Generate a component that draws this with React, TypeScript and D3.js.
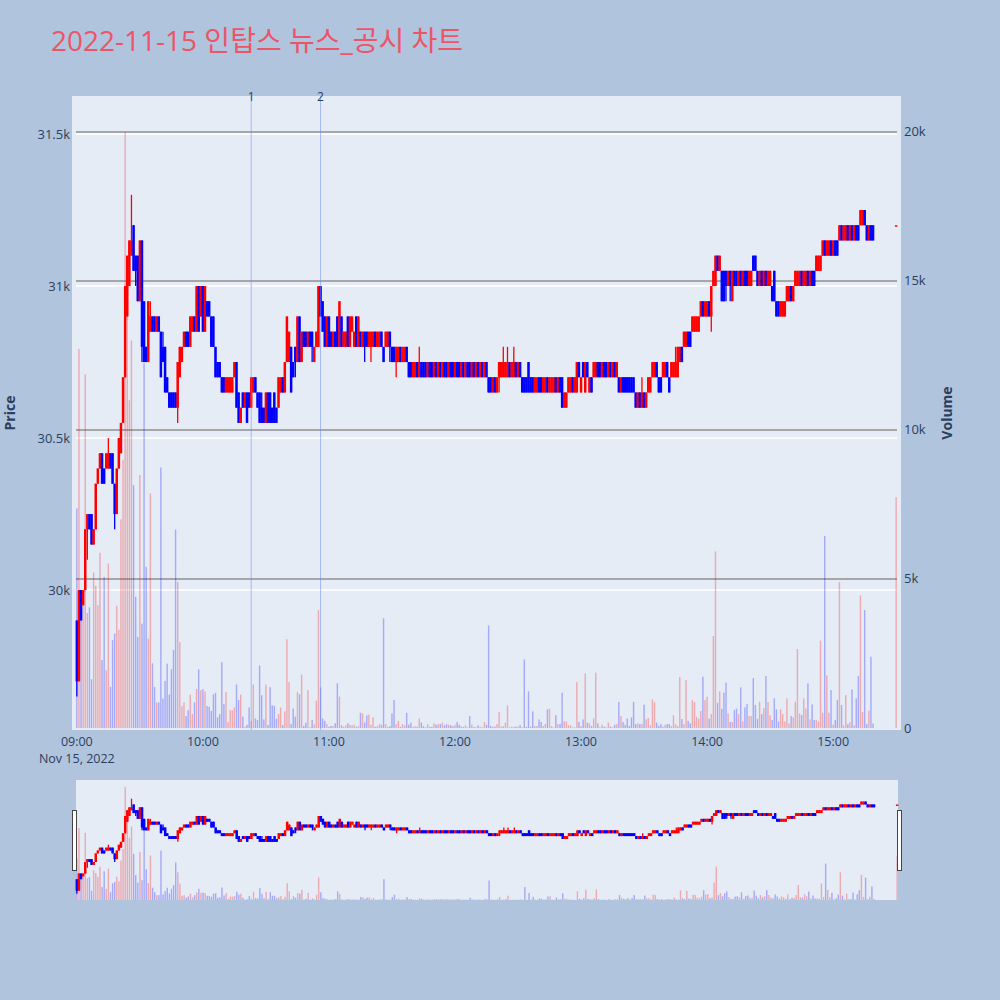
import * as d3 from "d3";

const TITLE = "2022-11-15 인탑스 뉴스_공시 차트";
const SESSION_OPEN = "09:00";
const CLOSE_AUCTION = "15:30";
const DATE_LABEL = "Nov 15, 2022";

const eventLabels = ["1", "2"];
const eventTimes = ["10:23", "10:56"];

const priceTicks = [30000, 30500, 31000, 31500];
const priceTickLabels = ["30k", "30.5k", "31k", "31.5k"];
const volumeTicks = [0, 5000, 10000, 15000, 20000];
const volumeTickLabels = ["0", "5k", "10k", "15k", "20k"];

// 1-minute candles 09:00 .. 15:19, last entry is the 15:30 closing auction
const opens = [
  29900, 29700, 30000, 29950, 30000, 30200, 30250, 30250, 30150, 30200,
  30350, 30400, 30450, 30400, 30400, 30400, 30450, 30450, 30350, 30250,
  30400, 30450, 30550, 30700, 30900, 31000, 31100, 31200, 31100, 31100,
  30950, 31150, 30950, 30800, 30750, 30850, 30900, 30900, 30850, 30900,
  30850, 30800, 30800, 30700, 30650, 30650, 30650, 30650, 30600, 30700,
  30750, 30800, 30850, 30850, 30800, 30850, 30900, 30850, 31000, 30900,
  31000, 30850, 30950, 30950, 30900, 30900, 30800, 30750, 30750, 30700,
  30700, 30650, 30650, 30650, 30650, 30700, 30750, 30650, 30550, 30650,
  30600, 30650, 30650, 30600, 30650, 30700, 30650, 30650, 30600, 30600,
  30550, 30650, 30650, 30600, 30650, 30600, 30600, 30650, 30700, 30650,
  30750, 30750, 30800, 30750, 30800, 30750, 30900, 30750, 30850, 30850,
  30800, 30850, 30850, 30750, 30800, 30800, 31000, 30950, 30900, 30800,
  30900, 30850, 30800, 30850, 30900, 30800, 30900, 30800, 30800, 30900,
  30800, 30850, 30800, 30900, 30800, 30850, 30800, 30850, 30850, 30800,
  30800, 30800, 30850, 30800, 30800, 30850, 30800, 30800, 30800, 30850,
  30800, 30800, 30750, 30750, 30800, 30750, 30750, 30800, 30750, 30750,
  30700, 30700, 30750, 30700, 30750, 30750, 30750, 30700, 30750, 30750,
  30700, 30750, 30700, 30750, 30700, 30750, 30750, 30700, 30750, 30750,
  30700, 30750, 30750, 30700, 30750, 30700, 30750, 30750, 30700, 30750,
  30700, 30750, 30700, 30750, 30700, 30750, 30700, 30700, 30650, 30700,
  30650, 30700, 30700, 30700, 30700, 30700, 30750, 30700, 30700, 30750,
  30700, 30750, 30700, 30700, 30700, 30750, 30700, 30700, 30650, 30650,
  30700, 30700, 30650, 30650, 30700, 30650, 30650, 30650, 30700, 30650,
  30700, 30700, 30600, 30600, 30650, 30650, 30700, 30650, 30650, 30750,
  30650, 30750, 30650, 30750, 30650, 30700, 30700, 30700, 30750, 30750,
  30700, 30750, 30750, 30700, 30750, 30700, 30750, 30700, 30700, 30650,
  30700, 30700, 30700, 30700, 30700, 30700, 30650, 30600, 30650, 30600,
  30650, 30600, 30650, 30650, 30700, 30700, 30750, 30700, 30700, 30700,
  30700, 30750, 30700, 30700, 30700, 30700, 30700, 30750, 30800, 30800,
  30800, 30850, 30850, 30850, 30850, 30850, 30850, 30900, 30950, 30900,
  30900, 30950, 30900, 31000, 31000, 31100, 31050, 31050, 31050, 31050,
  31000, 31050, 30950, 31050, 31050, 31000, 31050, 31000, 31050, 31050,
  31000, 31000, 31100, 31100, 31050, 31000, 31050, 31000, 31050, 31000,
  31000, 31000, 31050, 30950, 30950, 30900, 30900, 30900, 30950, 30950,
  31000, 30950, 31000, 31000, 31000, 31050, 31000, 31000, 31050, 31000,
  31050, 31050, 31050, 31050, 31050, 31100, 31150, 31100, 31100, 31150,
  31100, 31150, 31150, 31150, 31200, 31150, 31150, 31200, 31150, 31200,
  31150, 31200, 31200, 31200, 31200, 31250, 31200, 31150, 31200, 31200,
  31200,
];

const highs = [
  29900, 30000, 30000, 30000, 30200, 30250, 30250, 30250, 30200, 30350,
  30400, 30450, 30450, 30400, 30450, 30500, 30450, 30450, 30350, 30400,
  30500, 30550, 30700, 31000, 31100, 31150, 31300, 31200, 31100, 31100,
  31150, 31150, 30950, 30800, 30950, 30950, 30900, 30900, 30900, 30900,
  30850, 30850, 30800, 30700, 30650, 30650, 30650, 30650, 30750, 30800,
  30800, 30850, 30850, 30850, 30900, 30900, 30900, 31000, 31000, 31000,
  31000, 31000, 30950, 30950, 30900, 30900, 30800, 30750, 30750, 30700,
  30700, 30700, 30700, 30700, 30700, 30750, 30750, 30650, 30600, 30650,
  30650, 30650, 30650, 30700, 30700, 30700, 30650, 30650, 30650, 30600,
  30650, 30650, 30650, 30600, 30650, 30600, 30700, 30700, 30700, 30750,
  30900, 30850, 30800, 30750, 30800, 30900, 30900, 30850, 30850, 30850,
  30850, 30850, 30850, 30800, 30850, 31000, 31000, 30950, 30900, 30900,
  30900, 30850, 30850, 30850, 30900, 30950, 30900, 30850, 30850, 30900,
  30900, 30900, 30850, 30900, 30900, 30850, 30850, 30850, 30850, 30850,
  30850, 30850, 30850, 30850, 30850, 30850, 30800, 30850, 30850, 30850,
  30800, 30800, 30800, 30800, 30800, 30800, 30800, 30800, 30750, 30750,
  30750, 30750, 30750, 30800, 30750, 30750, 30750, 30750, 30750, 30750,
  30750, 30750, 30750, 30750, 30750, 30750, 30750, 30750, 30750, 30750,
  30750, 30750, 30750, 30750, 30750, 30750, 30750, 30750, 30750, 30750,
  30750, 30750, 30750, 30750, 30750, 30750, 30700, 30700, 30700, 30700,
  30700, 30750, 30750, 30800, 30750, 30800, 30750, 30750, 30800, 30750,
  30750, 30750, 30700, 30700, 30700, 30750, 30700, 30700, 30700, 30700,
  30700, 30700, 30700, 30700, 30700, 30700, 30700, 30700, 30700, 30700,
  30700, 30700, 30650, 30650, 30700, 30700, 30700, 30700, 30750, 30750,
  30700, 30750, 30750, 30750, 30700, 30700, 30750, 30750, 30750, 30750,
  30750, 30750, 30750, 30750, 30750, 30750, 30750, 30750, 30700, 30700,
  30700, 30700, 30700, 30700, 30700, 30700, 30650, 30650, 30650, 30700,
  30650, 30650, 30700, 30700, 30750, 30750, 30750, 30700, 30700, 30750,
  30750, 30750, 30700, 30750, 30750, 30800, 30800, 30800, 30800, 30850,
  30850, 30850, 30850, 30900, 30900, 30900, 30900, 30950, 30950, 30950,
  30950, 30950, 31000, 31050, 31100, 31100, 31100, 31050, 31050, 31050,
  31050, 31050, 31050, 31050, 31050, 31050, 31050, 31050, 31050, 31050,
  31050, 31050, 31100, 31100, 31050, 31050, 31050, 31050, 31050, 31050,
  31050, 31000, 31050, 30950, 30950, 30950, 30950, 30950, 31000, 31000,
  31000, 31000, 31050, 31050, 31050, 31050, 31050, 31050, 31050, 31050,
  31050, 31050, 31100, 31100, 31100, 31150, 31150, 31150, 31150, 31150,
  31150, 31150, 31150, 31200, 31200, 31200, 31200, 31200, 31200, 31200,
  31200, 31200, 31200, 31250, 31250, 31250, 31200, 31200, 31200, 31200,
  31200,
];

const lows = [
  29650, 29700, 29900, 29950, 30000, 30100, 30200, 30150, 30150, 30200,
  30350, 30400, 30350, 30350, 30400, 30400, 30400, 30350, 30200, 30250,
  30400, 30450, 30550, 30700, 30900, 31000, 31100, 31050, 31000, 30950,
  30950, 30750, 30750, 30750, 30750, 30850, 30850, 30850, 30850, 30850,
  30700, 30750, 30650, 30650, 30600, 30600, 30600, 30600, 30550, 30700,
  30750, 30800, 30800, 30800, 30800, 30850, 30850, 30850, 30850, 30900,
  30850, 30850, 30900, 30900, 30800, 30800, 30700, 30700, 30700, 30650,
  30650, 30650, 30650, 30650, 30650, 30700, 30600, 30550, 30550, 30600,
  30600, 30550, 30600, 30600, 30650, 30650, 30600, 30550, 30550, 30550,
  30550, 30550, 30550, 30550, 30550, 30550, 30600, 30650, 30650, 30650,
  30750, 30750, 30650, 30700, 30700, 30750, 30750, 30750, 30800, 30800,
  30800, 30800, 30750, 30750, 30800, 30800, 30900, 30850, 30800, 30800,
  30800, 30800, 30800, 30800, 30800, 30800, 30800, 30800, 30800, 30800,
  30800, 30850, 30800, 30800, 30800, 30800, 30800, 30750, 30800, 30800,
  30750, 30800, 30800, 30800, 30800, 30800, 30750, 30800, 30800, 30750,
  30750, 30750, 30700, 30750, 30750, 30750, 30750, 30750, 30700, 30700,
  30700, 30700, 30700, 30700, 30700, 30700, 30700, 30700, 30700, 30700,
  30700, 30700, 30700, 30700, 30700, 30700, 30700, 30700, 30700, 30700,
  30700, 30700, 30700, 30700, 30700, 30700, 30700, 30700, 30700, 30700,
  30700, 30700, 30700, 30700, 30700, 30700, 30650, 30650, 30650, 30650,
  30650, 30650, 30700, 30700, 30700, 30700, 30700, 30700, 30700, 30700,
  30700, 30700, 30650, 30650, 30650, 30650, 30650, 30650, 30650, 30650,
  30650, 30650, 30650, 30650, 30650, 30650, 30650, 30650, 30650, 30650,
  30650, 30600, 30600, 30600, 30650, 30650, 30650, 30650, 30650, 30700,
  30650, 30700, 30650, 30700, 30650, 30650, 30700, 30700, 30700, 30700,
  30700, 30700, 30700, 30700, 30700, 30700, 30700, 30700, 30650, 30650,
  30650, 30650, 30650, 30650, 30650, 30650, 30600, 30600, 30600, 30600,
  30600, 30600, 30650, 30650, 30700, 30700, 30700, 30650, 30650, 30700,
  30700, 30700, 30650, 30700, 30700, 30700, 30700, 30750, 30750, 30800,
  30800, 30800, 30800, 30850, 30850, 30850, 30850, 30900, 30900, 30900,
  30900, 30900, 30850, 31000, 31000, 31050, 31050, 30950, 30950, 30950,
  31000, 30950, 30950, 31000, 31000, 31000, 31000, 31000, 31000, 31000,
  31000, 31000, 31050, 31050, 31000, 31000, 31000, 31000, 31000, 31000,
  31000, 30950, 30950, 30900, 30900, 30900, 30900, 30900, 30950, 30950,
  30950, 30950, 31000, 31000, 31000, 31000, 31000, 31000, 31000, 31000,
  31000, 31000, 31050, 31050, 31050, 31100, 31100, 31100, 31100, 31100,
  31100, 31100, 31100, 31150, 31150, 31150, 31150, 31150, 31150, 31150,
  31150, 31150, 31150, 31200, 31200, 31200, 31150, 31150, 31150, 31150,
  31200,
];

const closes = [
  29700, 30000, 29900, 30000, 30200, 30250, 30200, 30150, 30200, 30350,
  30400, 30450, 30350, 30350, 30450, 30450, 30400, 30350, 30250, 30400,
  30500, 30550, 30700, 31000, 31100, 31150, 31150, 31050, 31050, 30950,
  31150, 30800, 30750, 30750, 30950, 30900, 30850, 30850, 30900, 30850,
  30700, 30750, 30650, 30650, 30600, 30600, 30600, 30600, 30750, 30800,
  30800, 30850, 30800, 30800, 30900, 30900, 30850, 31000, 30850, 31000,
  30850, 31000, 30900, 30900, 30800, 30800, 30700, 30700, 30700, 30650,
  30650, 30700, 30700, 30700, 30700, 30750, 30600, 30550, 30600, 30600,
  30650, 30550, 30600, 30700, 30700, 30650, 30600, 30550, 30550, 30550,
  30650, 30550, 30550, 30550, 30550, 30550, 30700, 30700, 30650, 30750,
  30900, 30850, 30650, 30700, 30750, 30900, 30750, 30850, 30800, 30800,
  30850, 30800, 30800, 30800, 30850, 31000, 30900, 30850, 30800, 30900,
  30800, 30800, 30850, 30800, 30800, 30950, 30800, 30850, 30850, 30800,
  30900, 30900, 30850, 30800, 30900, 30800, 30850, 30800, 30800, 30850,
  30850, 30850, 30800, 30850, 30850, 30800, 30750, 30850, 30850, 30800,
  30750, 30750, 30800, 30800, 30750, 30800, 30800, 30750, 30700, 30700,
  30750, 30750, 30700, 30750, 30700, 30700, 30700, 30750, 30700, 30700,
  30750, 30700, 30750, 30700, 30750, 30700, 30700, 30750, 30700, 30700,
  30750, 30700, 30700, 30750, 30700, 30750, 30700, 30700, 30750, 30700,
  30750, 30700, 30750, 30700, 30750, 30700, 30650, 30650, 30700, 30650,
  30700, 30750, 30750, 30750, 30750, 30750, 30700, 30750, 30750, 30700,
  30750, 30700, 30650, 30650, 30650, 30650, 30650, 30650, 30700, 30700,
  30650, 30650, 30700, 30700, 30650, 30700, 30700, 30700, 30650, 30700,
  30650, 30600, 30650, 30650, 30700, 30700, 30650, 30700, 30750, 30700,
  30700, 30700, 30750, 30700, 30700, 30650, 30750, 30750, 30700, 30700,
  30750, 30700, 30700, 30750, 30700, 30750, 30700, 30750, 30650, 30700,
  30650, 30650, 30650, 30650, 30650, 30650, 30600, 30650, 30600, 30650,
  30600, 30650, 30700, 30700, 30750, 30750, 30700, 30650, 30650, 30750,
  30750, 30700, 30650, 30750, 30750, 30750, 30800, 30800, 30750, 30850,
  30850, 30800, 30800, 30900, 30900, 30900, 30900, 30950, 30900, 30950,
  30950, 30900, 31000, 31050, 31100, 31050, 31100, 30950, 30950, 31000,
  31050, 31000, 31050, 31000, 31000, 31050, 31000, 31050, 31000, 31000,
  31050, 31050, 31050, 31050, 31000, 31050, 31000, 31050, 31000, 31050,
  31050, 30950, 30950, 30900, 30900, 30950, 30950, 30950, 31000, 31000,
  30950, 31000, 31050, 31050, 31050, 31000, 31050, 31050, 31000, 31050,
  31000, 31000, 31100, 31100, 31100, 31150, 31100, 31150, 31150, 31100,
  31150, 31100, 31100, 31200, 31150, 31200, 31200, 31150, 31200, 31150,
  31200, 31150, 31150, 31250, 31250, 31200, 31150, 31200, 31150, 31150,
  31200,
];

const volumes = [
  7370, 12720, 3590, 4120, 11870, 3860, 4050, 1640, 5220, 4770,
  4120, 5880, 2280, 5070, 1940, 5520, 1380, 2950, 3170, 4100,
  3300, 7000, 9000, 20000, 15000, 11000, 13000, 8150, 4400, 3060,
  8490, 3500, 12240, 5410, 3000, 7870, 2170, 1380, 860, 860,
  8740, 990, 1580, 2160, 1120, 1970, 2620, 6660, 4900, 2880,
  730, 860, 400, 600, 1120, 470, 860, 1310, 1970, 1270,
  1300, 1220, 740, 710, 570, 1130, 1180, 360, 470, 2210,
  800, 1210, 200, 600, 600, 690, 1460, 940, 1120, 380,
  40, 110, 690, 230, 1460, 320, 270, 2100, 1100, 290,
  1460, 100, 1370, 760, 740, 310, 470, 690, 100, 560,
  2980, 1540, 130, 650, 380, 1210, 1130, 1790, 70, 180,
  1270, 20, 270, 120, 920, 3960, 1360, 320, 240, 130,
  40, 70, 70, 160, 1500, 1050, 90, 40, 90, 160,
  110, 90, 110, 40, 60, 510, 490, 180, 420, 450,
  110, 360, 40, 60, 130, 110, 3680, 130, 40, 60,
  490, 940, 130, 240, 40, 130, 90, 510, 110, 180,
  40, 60, 40, 320, 180, 60, 20, 130, 40, 40,
  160, 110, 130, 130, 180, 90, 130, 110, 90, 60,
  110, 200, 110, 60, 40, 90, 20, 400, 110, 40,
  20, 90, 40, 20, 200, 110, 3440, 70, 45, 45,
  130, 535, 45, 67, 180, 758, 20, 45, 45, 45,
  45, 100, 20, 2300, 45, 1230, 45, 557, 67, 67,
  288, 200, 67, 130, 624, 647, 67, 20, 434, 130,
  130, 1184, 220, 220, 90, 90, 20, 20, 1542, 200,
  67, 288, 1833, 180, 155, 67, 320, 1855, 155, 20,
  110, 45, 20, 180, 45, 20, 110, 130, 870, 400,
  200, 110, 320, 67, 355, 881, 130, 155, 130, 130,
  781, 288, 335, 90, 960, 870, 180, 67, 130, 45,
  110, 130, 130, 67, 423, 130, 67, 1709, 300, 130,
  1609, 240, 155, 937, 870, 380, 310, 570, 1721, 937,
  1049, 310, 470, 3086, 5928, 848, 1228, 647, 1184, 1520,
  490, 200, 200, 602, 647, 467, 1363, 220, 691, 803,
  400, 400, 1676, 770, 310, 881, 467, 669, 1743, 870,
  423, 265, 994, 624, 220, 624, 467, 220, 994, 155,
  400, 355, 881, 2650, 490, 435, 994, 660, 1497, 290,
  792, 265, 265, 220, 2929, 512, 6443, 1765, 512, 1273,
  110, 265, 937, 4899, 770, 90, 1105, 130, 200, 1296,
  90, 994, 1743, 4451, 535, 3959, 130, 580, 2392, 150,
  7750,
];

const UP = "#FF0000";
const DOWN = "#0000FF";
const FONT = '"Open Sans", "Noto Sans CJK KR", Verdana, sans-serif';
const AXIS_COLOR = "#2a3f5f";

const at = (hm: string) => {
  const [h, m] = hm.split(":").map(Number);
  return new Date(2022, 10, 15, h, m);
};

// candle timestamps: one per minute from the open, last one is the closing auction
const times = opens.map((_, i) =>
  i < opens.length - 1 ? d3.timeMinute.offset(at(SESSION_OPEN), i) : at(CLOSE_AUCTION)
);

const xDomain = [d3.timeSecond.offset(at(SESSION_OPEN), -24), d3.timeSecond.offset(at(CLOSE_AUCTION), 24)];

// main plot
const x = d3.scaleTime().domain(xDomain).range([76, 897]);
const yPrice = d3.scaleLinear().domain([29540, 31625]).range([730, 96]);
const yVol = d3.scaleLinear().domain([0, 21208]).range([728, 96]);

// range slider
const xs = d3.scaleTime().domain(xDomain).range([76, 898]);
const ysPrice = d3.scaleLinear().domain([29540, 31625]).range([900, 780]);
const ysVol = d3.scaleLinear().domain([0, 21208]).range([900, 780]);

const hourTicks = d3.timeHour.range(at("09:00"), at("15:01"));
const fmt = d3.timeFormat("%H:%M");

function Candles({
  xs: sx,
  yp,
  yv,
  base,
  bodyW,
  barW,
}: {
  xs: d3.ScaleTime<number, number>;
  yp: d3.ScaleLinear<number, number>;
  yv: d3.ScaleLinear<number, number>;
  base: number;
  bodyW: number;
  barW: number;
}) {
  return (
    <g>
      <g opacity={0.28}>
        {volumes.map((v, i) => {
          const c = closes[i] >= opens[i] ? UP : DOWN;
          const cx = sx(times[i]);
          return <rect key={i} x={cx - barW / 2} y={yv(v)} width={barW} height={base - yv(v)} fill={c} />;
        })}
      </g>
      {opens.map((o, i) => {
        const c = closes[i] >= o ? UP : DOWN;
        const cx = sx(times[i]);
        const top = yp(Math.max(o, closes[i]));
        const h = Math.max(1.5, Math.abs(yp(o) - yp(closes[i])));
        return (
          <g key={i}>
            <line x1={cx} x2={cx} y1={yp(highs[i])} y2={yp(lows[i])} stroke={c} strokeWidth={1.3} />
            <rect x={cx - bodyW / 2} y={top} width={bodyW} height={h} fill={c} />
          </g>
        );
      })}
    </g>
  );
}

export default function App() {
  return (
    <svg
      width={1000}
      height={1000}
      style={{ position: "absolute", left: 0, top: 0, fontFamily: FONT }}
    >
      <rect width={1000} height={1000} fill="#B0C4DE" />
      <text x={51} y={51} fontSize={28} fill="#EC5468">
        {TITLE}
      </text>

      {/* main plot */}
      <rect x={72} y={96} width={829} height={634} fill="#E5ECF6" />
      {priceTicks.map((t) => (
        <line key={"pg" + t} x1={76} x2={897} y1={yPrice(t)} y2={yPrice(t)} stroke="#fff" strokeWidth={1.5} />
      ))}
      {volumeTicks.slice(1).map((t) => (
        <line key={"vg" + t} x1={76} x2={897} y1={yVol(t)} y2={yVol(t)} stroke="#8f8f8f" strokeWidth={1.5} />
      ))}

      <Candles xs={x} yp={yPrice} yv={yVol} base={728} bodyW={2.5} barW={1.4} />

      {eventTimes.map((t, i) => (
        <g key={"ev" + i}>
          <line x1={x(at(t))} x2={x(at(t))} y1={96} y2={730} stroke="#6f8cf0" strokeOpacity={0.55} strokeWidth={1} />
          <text x={x(at(t))} y={101} fontSize={12} textAnchor="middle" fill={AXIS_COLOR}>
            {eventLabels[i]}
          </text>
        </g>
      ))}

      {/* axes */}
      {priceTicks.map((t, i) => (
        <text key={"pt" + t} x={70} y={yPrice(t) + 4.5} fontSize={13} textAnchor="end" fill={AXIS_COLOR}>
          {priceTickLabels[i]}
        </text>
      ))}
      {volumeTicks.map((t, i) => (
        <text key={"vt" + t} x={904} y={yVol(t) + 4.5} fontSize={13} textAnchor="start" fill={AXIS_COLOR}>
          {volumeTickLabels[i]}
        </text>
      ))}
      {hourTicks.map((t, i) => (
        <g key={"xt" + i}>
          <text x={x(t)} y={745.5} fontSize={12.5} textAnchor="middle" fill={AXIS_COLOR}>
            {fmt(t)}
          </text>
          {i === 0 && (
            <text x={x(t)} y={763} fontSize={12.5} textAnchor="middle" fill={AXIS_COLOR}>
              {DATE_LABEL}
            </text>
          )}
        </g>
      ))}
      <text
        transform="translate(15,413) rotate(-90)"
        fontSize={14}
        fontWeight="bold"
        textAnchor="middle"
        fill={AXIS_COLOR}
      >
        Price
      </text>
      <text
        transform="translate(952,413) rotate(-90)"
        fontSize={14}
        fontWeight="bold"
        textAnchor="middle"
        fill={AXIS_COLOR}
      >
        Volume
      </text>

      {/* range slider */}
      <rect x={76} y={780} width={822} height={120} fill="#E5ECF6" />
      <Candles xs={xs} yp={ysPrice} yv={ysVol} base={900} bodyW={2.5} barW={1.4} />
      <rect x={72.5} y={810.5} width={4} height={60} fill="#fff" stroke="#444" strokeWidth={1} />
      <rect x={897.5} y={810.5} width={4} height={60} fill="#fff" stroke="#444" strokeWidth={1} />
    </svg>
  );
}
